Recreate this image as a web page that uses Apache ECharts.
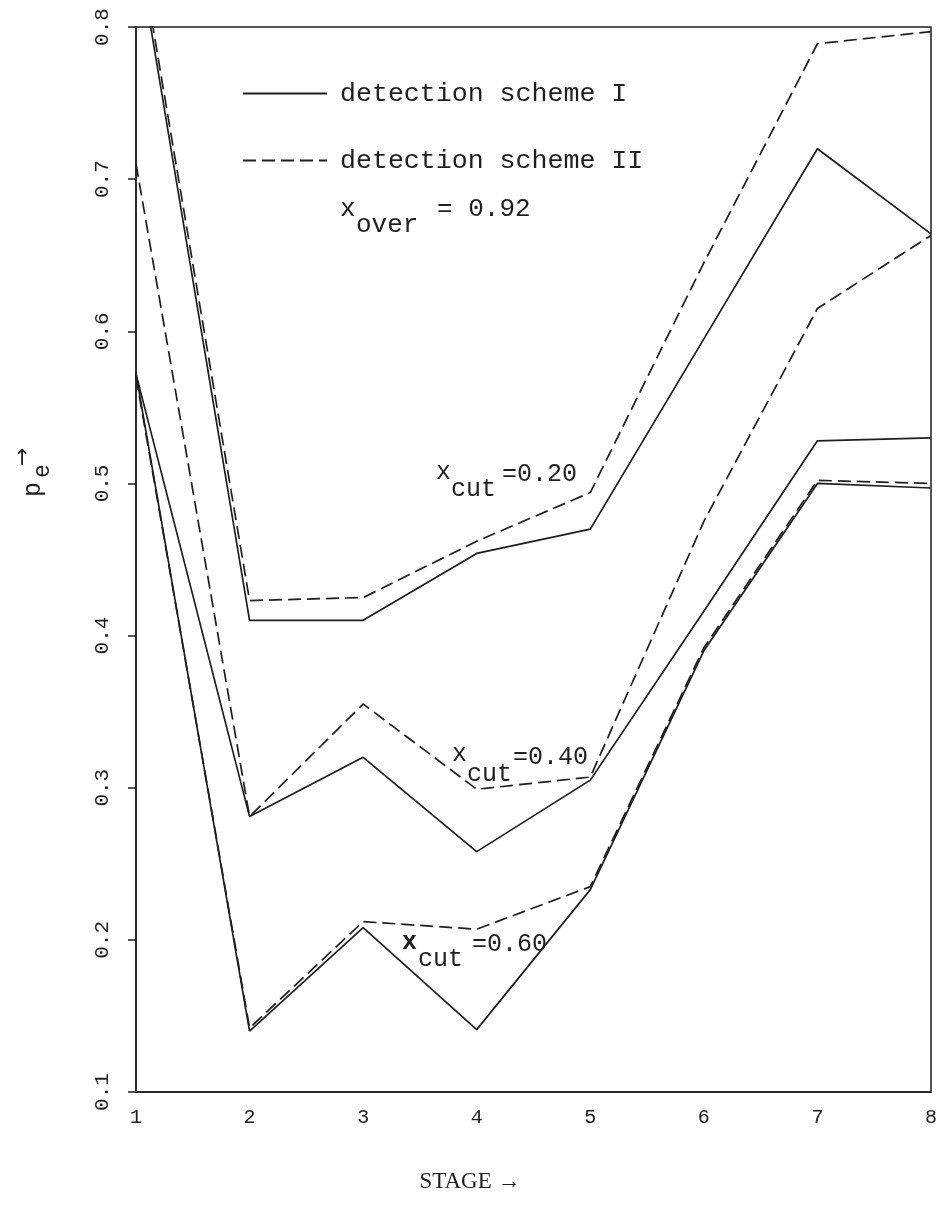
<!DOCTYPE html>
<html><head><meta charset="utf-8">
<script src="https://cdn.jsdelivr.net/npm/echarts@6/dist/echarts.min.js"></script>
<style>html,body{margin:0;padding:0;background:#fff}#c{width:940px;height:1206px}</style>
</head><body><div id="c"></div>
<script>
// ---- data ----
const stages = [1, 2, 3, 4, 5, 6, 7, 8];
const yTickLabels = ['0.1', '0.2', '0.3', '0.4', '0.5', '0.6', '0.7', '0.8'];
const cut20_I  = [0.858, 0.410, 0.410, 0.454, 0.470, 0.595, 0.720, 0.664];
const cut20_II = [0.866, 0.423, 0.425, 0.462, 0.494, 0.645, 0.789, 0.797];
const cut40_I  = [0.572, 0.281, 0.320, 0.258, 0.305, 0.416, 0.528, 0.530];
const cut40_II = [0.710, 0.281, 0.355, 0.299, 0.307, 0.475, 0.615, 0.663];
const cut60_I  = [0.572, 0.140, 0.208, 0.141, 0.233, 0.390, 0.500, 0.497];
const cut60_II = [0.570, 0.142, 0.212, 0.207, 0.235, 0.392, 0.502, 0.500];

const INK = '#1e1e1e';
const MONO = '"Liberation Mono", "DejaVu Sans Mono", monospace';
const NAME_I = 'detection scheme I';
const NAME_II = 'detection scheme II';

function mk(arr, dashed) {
  return {
    type: 'line',
    name: dashed ? NAME_II : NAME_I,
    data: stages.map((s, i) => [s, arr[i]]),
    symbol: 'none',
    showSymbol: false,
    clip: true,
    silent: true,
    lineStyle: { color: INK, width: 1.7, type: dashed ? [13, 6] : 'solid' },
    itemStyle: { color: INK }
  };
}

const chart = echarts.init(document.getElementById('c'), null, { renderer: 'canvas' });
chart.setOption({
  animation: false,
  backgroundColor: '#fff',
  grid: { left: 136, right: 5, top: 27, bottom: 114, show: true, borderColor: INK, borderWidth: 1.5, backgroundColor: 'transparent' },
  legend: {
    data: [NAME_I, NAME_II],
    orient: 'vertical',
    left: 237, top: 75,
    itemWidth: 84, itemHeight: 1, itemGap: 40,
    selectedMode: false,
    itemStyle: { color: 'rgba(0,0,0,0)', borderWidth: 0 },
    textStyle: { fontFamily: MONO, fontSize: 26.6, color: INK, padding: [0, 0, 0, 8] }
  },
  xAxis: {
    type: 'value', min: 1, max: 8, interval: 1,
    axisLine: { show: true, lineStyle: { color: INK, width: 1.5 } },
    axisTick: { show: false },
    splitLine: { show: false },
    axisLabel: { fontFamily: MONO, fontSize: 20, color: INK, margin: 16 }
  },
  yAxis: {
    type: 'value', min: 0.1, max: 0.8, interval: 0.1,
    axisLine: { show: true, lineStyle: { color: INK, width: 1.5 } },
    axisTick: { show: true, inside: false, length: 8, lineStyle: { color: INK, width: 1.5 } },
    splitLine: { show: false },
    axisLabel: {
      rotate: 90, fontFamily: MONO, fontSize: 21, color: INK, margin: 23,
      formatter: v => yTickLabels[Math.round(v * 10) - 1]
    }
  },
  series: [
    mk(cut20_I, false), mk(cut20_II, true),
    mk(cut40_I, false), mk(cut40_II, true),
    mk(cut60_I, false), mk(cut60_II, true)
  ],
  graphic: [
    // x_over = 0.92
    { type: 'text', left: 340, top: 196, style: { text: 'x', font: '26px ' + MONO, fill: INK } },
    { type: 'text', left: 356, top: 212, style: { text: 'over', font: '26px ' + MONO, fill: INK } },
    { type: 'text', left: 437, top: 196, style: { text: '= 0.92', font: '26px ' + MONO, fill: INK } },
    // x_cut = 0.20
    { type: 'text', left: 436, top: 460, style: { text: 'x', font: '25px ' + MONO, fill: INK } },
    { type: 'text', left: 451, top: 477, style: { text: 'cut', font: '25px ' + MONO, fill: INK } },
    { type: 'text', left: 502, top: 462, style: { text: '=0.20', font: '25px ' + MONO, fill: INK } },
    // x_cut = 0.40
    { type: 'text', left: 452, top: 742, style: { text: 'x', font: '25px ' + MONO, fill: INK } },
    { type: 'text', left: 467, top: 762, style: { text: 'cut', font: '25px ' + MONO, fill: INK } },
    { type: 'text', left: 513, top: 745, style: { text: '=0.40', font: '25px ' + MONO, fill: INK } },
    // x_cut = 0.60
    { type: 'text', left: 402, top: 930, style: { text: 'x', font: 'bold 25px ' + MONO, fill: INK } },
    { type: 'text', left: 418, top: 947, style: { text: 'cut', font: '25px ' + MONO, fill: INK } },
    { type: 'text', left: 472, top: 932, style: { text: '=0.60', font: '25px ' + MONO, fill: INK } },
    // y-axis name p_e ->
    { type: 'text', x: 46, y: 497, rotation: Math.PI / 2, style: { text: 'p', font: '25px ' + MONO, fill: INK, textAlign: 'left', textVerticalAlign: 'bottom' } },
    { type: 'text', x: 54, y: 478, rotation: Math.PI / 2, style: { text: 'e', font: '23px ' + MONO, fill: INK, textAlign: 'left', textVerticalAlign: 'bottom' } },
    { type: 'text', x: 34, y: 466, rotation: Math.PI / 2, style: { text: '\u2192', font: '22px "DejaVu Sans", sans-serif', fill: INK, textAlign: 'left', textVerticalAlign: 'bottom' } },
    // x-axis name
    { type: 'text', x: 470, y: 1182, style: { text: 'STAGE \u2192', font: '23px "Liberation Serif", serif', fill: INK, textAlign: 'center', textVerticalAlign: 'middle' } }
  ]
});
</script>
</body></html>
